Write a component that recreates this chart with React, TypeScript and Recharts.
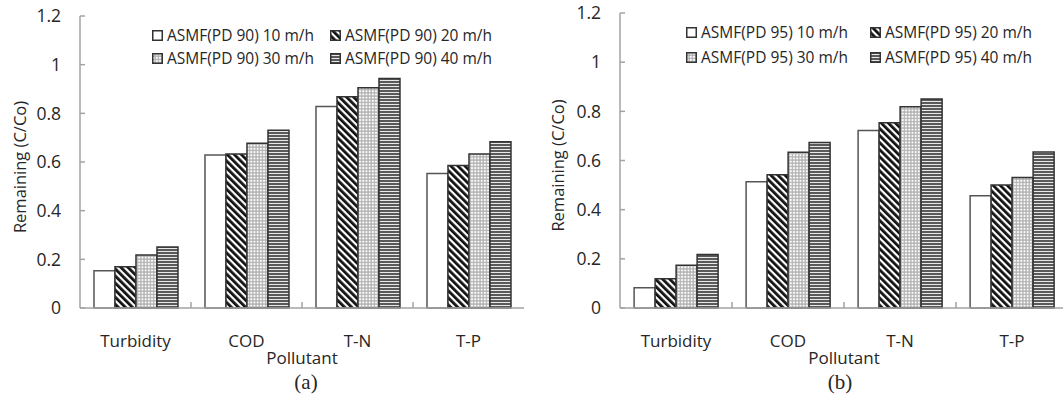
import React from 'react'
import { BarChart, Bar, XAxis, YAxis, Legend, Label } from 'recharts'

const categories = ['Turbidity', 'COD', 'T-N', 'T-P']
const speeds = ['10 m/h', '20 m/h', '30 m/h', '40 m/h']
const yTicks = [0, 0.2, 0.4, 0.6, 0.8, 1, 1.2]

// (a) ASMF PD 90
const pd90_10 = [0.153, 0.629, 0.828, 0.553]
const pd90_20 = [0.17, 0.633, 0.868, 0.586]
const pd90_30 = [0.218, 0.677, 0.905, 0.633]
const pd90_40 = [0.251, 0.73, 0.943, 0.683]

// (b) ASMF PD 95
const pd95_10 = [0.082, 0.514, 0.722, 0.457]
const pd95_20 = [0.119, 0.542, 0.754, 0.5]
const pd95_30 = [0.174, 0.634, 0.819, 0.531]
const pd95_40 = [0.218, 0.673, 0.85, 0.635]

const TEXT = '#262626'
const FONT = '"Open Sans", sans-serif'
const TICK_MARGIN = 27

// category label plus a short inward tick at the right edge of each band
const CategoryTick = (props: any) => {
  const { x, y, payload, index, visibleTicksCount, width } = props
  const half = payload && payload.offset ? payload.offset : width / visibleTicksCount / 2
  const axisY = y - TICK_MARGIN
  return (
    <g>
      <text x={x} y={y} dy="0.71em" textAnchor="middle" style={{ fontSize: 17, fill: TEXT, fontFamily: FONT }}>
        {payload.value}
      </text>
      {index < visibleTicksCount - 1 && (
        <line x1={x + half} x2={x + half} y1={axisY} y2={axisY - 6} stroke="#a3a3a3" strokeWidth={1.5} />
      )}
    </g>
  )
}

interface PanelProps {
  id: string
  pd: string
  series: number[][]
  left: number
  width: number
  yAxisWidth: number
  marginTop: number
  marginRight: number
  yLabelX: number
  legend: { top: number; left: number; colGap: number; rowGap: number }
  caption: string
  captionX: number
}

function Panel(p: PanelProps) {
  const data = categories.map((name, i) => ({
    name,
    s10: p.series[0][i],
    s20: p.series[1][i],
    s30: p.series[2][i],
    s40: p.series[3][i],
  }))
  const fills = ['#fff', `url(#${p.id}-diag)`, `url(#${p.id}-dots)`, `url(#${p.id}-hs)`]
  const keys = ['s10', 's20', 's30', 's40']

  const renderLegend = () => (
    <div style={{ position: 'relative', width: 380, height: 50, fontFamily: FONT, color: TEXT }}>
      {speeds.map((s, i) => (
        <div
          key={s}
          style={{
            position: 'absolute',
            left: (i % 2) * p.legend.colGap,
            top: Math.floor(i / 2) * p.legend.rowGap,
            display: 'flex',
            alignItems: 'center',
            whiteSpace: 'nowrap',
            fontSize: 15.5,
            lineHeight: '20px',
            height: 20,
          }}
        >
          <svg width={11} height={11} style={{ display: 'block' }}>
            <rect x={0.75} y={0.75} width={9.5} height={9.5} fill={fills[i]} stroke="#333" strokeWidth={1.5} />
          </svg>
          <span style={{ marginLeft: 4 }}>{`ASMF(PD ${p.pd}) ${s}`}</span>
        </div>
      ))}
    </div>
  )

  return (
    <div style={{ position: 'absolute', left: p.left, top: 0 }}>
      <BarChart
        width={p.width}
        height={405}
        data={data}
        margin={{ top: p.marginTop, right: p.marginRight, left: 0, bottom: 67 }}
        barCategoryGap="12.6%"
        barGap={0}
      >
        <defs>
          <pattern id={`${p.id}-diag`} patternUnits="userSpaceOnUse" width={5} height={5} patternTransform="rotate(-45)">
            <rect width={5} height={5} fill="#fff" />
            <rect width={2.8} height={5} fill="#111" />
          </pattern>
          <pattern id={`${p.id}-dots`} patternUnits="userSpaceOnUse" width={3.2} height={3.2}>
            <rect width={3.2} height={3.2} fill="#b0b0b0" />
            <rect x={0.7} y={0.7} width={1.9} height={1.9} fill="#fff" />
          </pattern>
          <pattern id={`${p.id}-hs`} patternUnits="userSpaceOnUse" width={4} height={3}>
            <rect width={4} height={3} fill="#e8e8e8" />
            <rect width={4} height={2} fill="#5a5a5a" />
          </pattern>
        </defs>
        <XAxis
          dataKey="name"
          height={30}
          interval={0}
          tickLine={false}
          tickSize={0}
          tickMargin={TICK_MARGIN}
          axisLine={{ stroke: '#a3a3a3', strokeWidth: 1.5 }}
          tick={<CategoryTick />}
        >
          <Label value="Pollutant" position="bottom" offset={14} style={{ fontSize: 17, fill: TEXT, fontFamily: FONT }} />
        </XAxis>
        <XAxis
          xAxisId="top"
          orientation="top"
          dataKey="name"
          height={0}
          tick={false}
          tickLine={false}
          axisLine={{ stroke: '#666', strokeWidth: 2 }}
        />
        <YAxis
          domain={[0, 1.2]}
          ticks={yTicks}
          width={p.yAxisWidth}
          tickSize={-5}
          tickMargin={24}
          axisLine={{ stroke: '#a3a3a3', strokeWidth: 1.5 }}
          tickLine={{ stroke: '#a3a3a3', strokeWidth: 1.5 }}
          tick={{ fontSize: 17.5, fill: TEXT, fontFamily: FONT }}
        >
          <Label
            content={({ viewBox }: any) => {
              const cx = viewBox.x + p.yLabelX
              const cy = viewBox.y + viewBox.height / 2 + 5
              return (
                <text
                  x={cx}
                  y={cy}
                  transform={`rotate(-90, ${cx}, ${cy})`}
                  textAnchor="middle"
                  dominantBaseline="central"
                  style={{ fontSize: 16.5, fill: TEXT, fontFamily: FONT }}
                >
                  Remaining (C/Co)
                </text>
              )
            }}
          />
        </YAxis>
        <YAxis
          yAxisId="right"
          orientation="right"
          domain={[0, 1.2]}
          width={0}
          tick={false}
          tickLine={false}
          axisLine={{ stroke: '#888', strokeWidth: 1.5 }}
        />
        <Legend
          layout="horizontal"
          verticalAlign="middle"
          content={renderLegend}
          wrapperStyle={{ top: p.legend.top, left: p.legend.left, width: 380, height: 50 }}
        />
        {keys.map((k, i) => (
          <Bar
            key={k}
            dataKey={k}
            name={`ASMF(PD ${p.pd}) ${speeds[i]}`}
            fill={fills[i]}
            stroke={i === 0 ? '#555' : '#333'}
            strokeWidth={1.5}
            isAnimationActive={false}
          />
        ))}
      </BarChart>
      <div
        style={{
          position: 'absolute',
          left: p.captionX - 30,
          top: 373,
          width: 60,
          height: 18,
          lineHeight: '18px',
          textAlign: 'center',
          fontFamily: '"Liberation Serif", serif',
          fontSize: 21,
          color: TEXT,
        }}
      >
        {p.caption}
      </div>
    </div>
  )
}

export default function App() {
  return (
    <div style={{ position: 'absolute', left: 0, top: 0, width: 1063, height: 405, overflow: 'hidden', background: '#fff' }}>
      <Panel
        id="a"
        pd="90"
        series={[pd90_10, pd90_20, pd90_30, pd90_40]}
        left={0}
        width={530}
        yAxisWidth={80}
        marginTop={16}
        marginRight={6}
        yLabelX={19}
        legend={{ top: 25, left: 152, colGap: 178, rowGap: 23 }}
        caption="(a)"
        captionX={306}
      />
      <Panel
        id="b"
        pd="95"
        series={[pd95_10, pd95_20, pd95_30, pd95_40]}
        left={530}
        width={545}
        yAxisWidth={90}
        marginTop={13}
        marginRight={7}
        yLabelX={27}
        legend={{ top: 22, left: 156, colGap: 184, rowGap: 25 }}
        caption="(b)"
        captionX={310}
      />
    </div>
  )
}
